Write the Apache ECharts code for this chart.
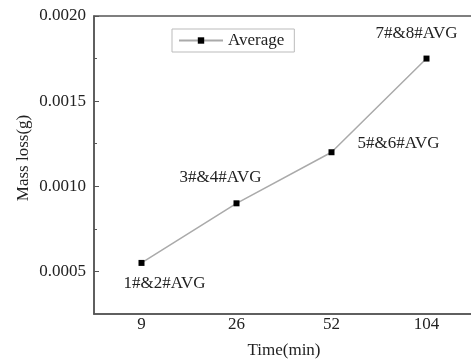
<!DOCTYPE html>
<html>
<head>
<meta charset="utf-8">
<script src="https://cdn.jsdelivr.net/npm/echarts@6/dist/echarts.min.js"></script>
<style>
  html, body { margin: 0; padding: 0; background: #fff; }
  #chart { width: 471px; height: 363px; }
</style>
</head>
<body>
<div id="chart"></div>
<script>
// 数据
const times = ['9', '26', '52', '104']
const massLoss = [0.00055, 0.0009, 0.0012, 0.00175]
const pointLabels = ['1#&2#AVG', '3#&4#AVG', '5#&6#AVG', '7#&8#AVG']
const yMajorTicks = [0.0005, 0.001, 0.0015, 0.002]
const yMinorTicks = [0.00075, 0.00125, 0.00175]
// 标签相对数据点的偏移
const labelOffsets = [[23, 21], [-16, -26], [67, -9], [-10, -25]]

const serif = 'Liberation Serif'
const axisColor = '#555'

const chart = echarts.init(document.getElementById('chart'))

const seriesData = massLoss.map((v, i) => {
  return {
    value: v,
    label: {
      show: true,
      formatter: pointLabels[i],
      position: 'inside',
      offset: labelOffsets[i],
      fontFamily: serif,
      fontSize: 17,
      color: '#222'
    }
  }
})

const option = {
  animation: false,
  grid: {
    left: 94,
    top: 16,
    right: -3,
    bottom: 49,
    outerBoundsMode: 'none',
    show: true,
    borderColor: axisColor,
    borderWidth: 1.5
  },
  legend: {
    left: 172,
    top: 29,
    data: ['Average'],
    borderColor: '#bbb',
    borderWidth: 1,
    padding: [3, 10, 3, 6],
    itemWidth: 44,
    itemHeight: 8,
    itemGap: 0,
    textStyle: { fontFamily: serif, fontSize: 17, color: '#222' }
  },
  xAxis: [
    {
      type: 'category',
      data: times,
      boundaryGap: true,
      name: 'Time(min)',
      nameLocation: 'middle',
      nameGap: 28,
      nameTextStyle: { fontFamily: serif, fontSize: 17, color: '#222' },
      axisLine: { lineStyle: { color: axisColor, width: 1.5 } },
      axisTick: { inside: true, alignWithLabel: true, length: 5, lineStyle: { color: axisColor } },
      axisLabel: { fontFamily: serif, fontSize: 17, color: '#222', margin: 2 },
      splitLine: { show: false }
    },
    {
      type: 'category',
      data: times,
      position: 'bottom',
      boundaryGap: true,
      axisLine: { show: false },
      axisTick: { inside: true, length: 3, lineStyle: { color: axisColor } },
      axisLabel: { show: false },
      splitLine: { show: false }
    }
  ],
  yAxis: [
    {
      type: 'value',
      min: 0.00025,
      max: 0.002,
      name: 'Mass loss(g)',
      nameLocation: 'middle',
      nameGap: 62,
      nameMoveOverlap: false,
      nameTextStyle: { fontFamily: serif, fontSize: 17, color: '#222', padding: [0, 0, 0, 14] },
      axisLine: { show: true, lineStyle: { color: axisColor, width: 1.5 } },
      axisTick: { show: true, inside: true, length: 5, customValues: yMajorTicks, lineStyle: { color: axisColor } },
      axisLabel: {
        customValues: yMajorTicks,
        formatter: v => v.toFixed(4),
        fontFamily: serif,
        fontSize: 17,
        color: '#222',
        margin: 8
      },
      splitLine: { show: false }
    },
    {
      type: 'value',
      min: 0.00025,
      max: 0.002,
      position: 'left',
      axisLine: { show: false },
      axisTick: { show: true, inside: true, length: 3, customValues: yMinorTicks, lineStyle: { color: axisColor } },
      axisLabel: { show: false },
      splitLine: { show: false }
    }
  ],
  series: [
    {
      name: 'Average',
      type: 'line',
      xAxisIndex: 0,
      yAxisIndex: 0,
      data: seriesData,
      symbol: 'rect',
      symbolSize: 6,
      itemStyle: { color: '#000' },
      lineStyle: { color: '#aaa', width: 1.5 }
    }
  ]
}

chart.setOption(option)
</script>
</body>
</html>
